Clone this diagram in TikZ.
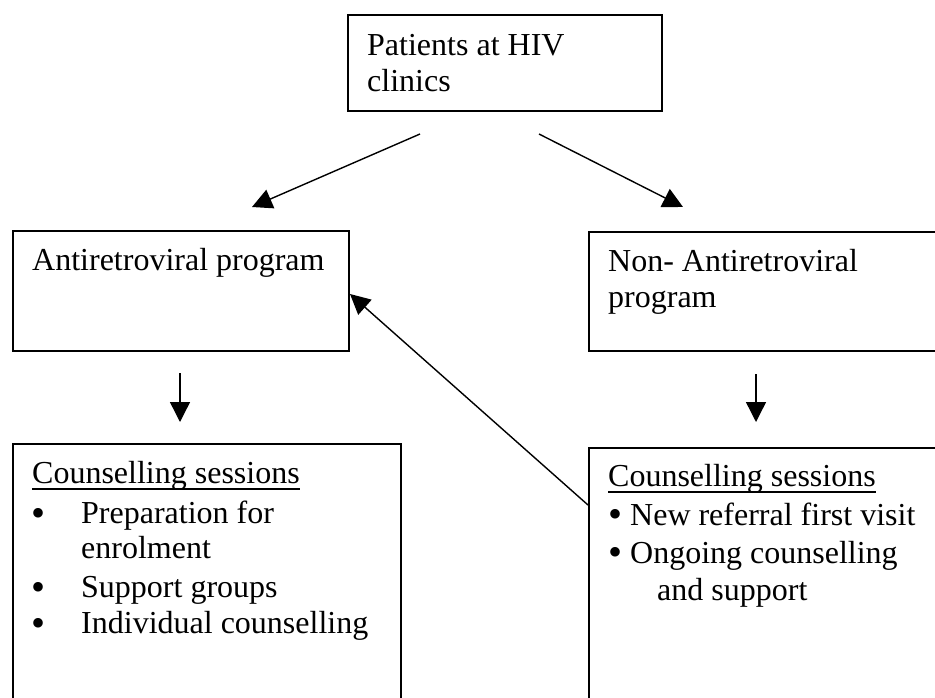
\documentclass[tikz,border=0pt]{standalone}
\usepackage{fontspec}
\usepackage{graphicx}
\setmainfont{Liberation Serif}
\usetikzlibrary{arrows.meta,calc}
\newcommand{\bigbul}[1]{\smash{\raisebox{#1}{\scalebox{1.25}{\textbullet}}}}
\newcommand{\lbul}{\makebox[50pt][l]{\bigbul{-3pt}}}
\begin{document}
\begin{tikzpicture}[x=1pt,y=-1pt,
  box/.style={draw=black,line width=1.6pt,inner sep=0pt,anchor=north west},
  txt/.style={anchor=base west,inner sep=0pt,font=\fontsize{32}{36}\selectfont},
  conn/.style={line width=1.4pt,-{Triangle[length=20pt,width=20pt]}},
  uline/.style={line width=1.6pt}]
\useasboundingbox (0,0) rectangle (935,698);
\begin{scope}
\clip (0,0) rectangle (935,698);
% boxes
\node[box,minimum width=314pt,minimum height=96pt] (top) at (347,14) {};
\node[box,minimum width=336pt,minimum height=120pt] (arv) at (12,230) {};
\node[box,minimum width=370pt,minimum height=119pt] (narv) at (588,231) {};
\node[box,minimum width=388pt,minimum height=280pt] (cl) at (12,443) {};
\node[box,minimum width=370pt,minimum height=280pt] (cr) at (588,447) {};
% texts
\node[txt] (t1) at (367,56) {Patients at HIV};
\node[txt] (t2) at (367,92) {clinics};
\node[txt] (a1) at (32,270) {Antiretroviral program};
\node[txt] (n1) at (608,271) {Non- Antiretroviral};
\node[txt] (n2) at (608,307) {program};
\node[txt] (hl) at (32,483) {Counselling sessions};
\node[txt] (l1) at (31,523) {\lbul Preparation for};
\node[txt] (l2) at (81,558) {enrolment};
\node[txt] (l3) at (31,597) {\lbul Support groups};
\node[txt] (l4) at (31,633) {\lbul Individual counselling};
\node[txt] (hr) at (608,486) {Counselling sessions};
\node[txt] (r1) at (608,525) {\bigbul{-2pt}\ New referral first visit};
\node[txt] (r2) at (608,563) {\bigbul{-2pt}\ Ongoing counselling};
\node[txt] (r3) at (657,600) {and support};
\draw[uline] ($(hl.base west)+(0,6)$) -- ($(hl.base east)+(0,6)$);
\draw[uline] ($(hr.base west)+(0,6)$) -- ($(hr.base east)+(0,6)$);
% connector ends
\coordinate (s1) at (420,134);
\coordinate (e1) at (252,207);
\coordinate (s2) at (539,134);
\coordinate (e2) at (683,207);
\coordinate (s3) at (180,373);
\coordinate (e3) at (180,422);
\coordinate (s4) at (756,374);
\coordinate (e4) at (756,422);
\coordinate (s5) at (588,505);
\coordinate (e5) at (350,294);
\draw[conn] (s1) -- (e1);
\draw[conn] (s2) -- (e2);
\draw[conn] (s3) -- (e3);
\draw[conn] (s4) -- (e4);
\draw[conn] (s5) -- (e5);
\end{scope}
\end{tikzpicture}
\end{document}
